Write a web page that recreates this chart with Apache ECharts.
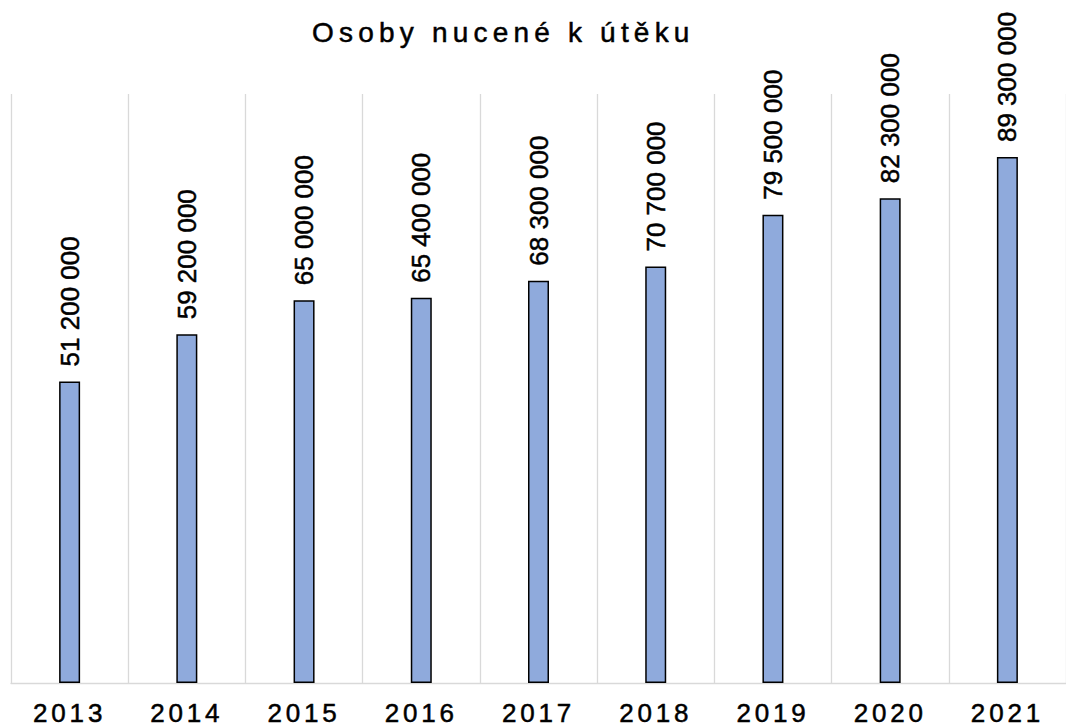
<!DOCTYPE html>
<html>
<head>
<meta charset="utf-8">
<script src="https://cdn.jsdelivr.net/npm/echarts@6/dist/echarts.min.js"></script>
<style>
  html, body { margin: 0; padding: 0; background: #fff; }
  #chart { width: 1066px; height: 728px; }
</style>
</head>
<body>
<div id="chart"></div>
<script>
const titleText = "Osoby nucené k útěku";
const years = ["2013", "2014", "2015", "2016", "2017", "2018", "2019", "2020", "2021"];
const displaced = [51200000, 59200000, 65000000, 65400000, 68300000, 70700000, 79500000, 82300000, 89300000];

const FONT = "'Liberation Sans', Arial, sans-serif";

function fmt(v) {
  return String(v).replace(/\B(?=(\d{3})+(?!\d))/g, " ");
}

const chart = echarts.init(document.getElementById("chart"), null, { renderer: "svg" });

const option = {
  animation: false,
  backgroundColor: "#fff",
  title: {
    text: titleText,
    left: 307,
    top: 13,
    textStyle: {
      fontFamily: FONT, fontSize: 28, fontWeight: "normal", color: "#000",
      textBorderColor: "#000", textBorderWidth: 0.5
    }
  },
  grid: { left: 11, top: 94, bottom: 45, width: 1062 },
  xAxis: {
    type: "category",
    data: years,
    axisLine: { lineStyle: { color: "#d9d9d9", width: 1.3 } },
    axisTick: { show: false },
    splitLine: { show: true, lineStyle: { color: "#d9d9d9", width: 1.3 } },
    axisLabel: {
      fontFamily: FONT, fontSize: 26, color: "#000", margin: 17,
      textBorderColor: "#000", textBorderWidth: 0.5
    }
  },
  yAxis: {
    type: "value",
    min: 0,
    max: 100000000,
    show: false,
    splitLine: { show: false }
  },
  series: [{
    type: "bar",
    data: displaced,
    barWidth: 21,
    itemStyle: { color: "#8faadc", borderColor: "#000", borderWidth: 1.5 },
    label: {
      show: true,
      position: "top",
      rotate: 90,
      align: "left",
      verticalAlign: "middle",
      distance: 15,
      fontFamily: FONT,
      fontSize: 26,
      color: "#000",
      textBorderColor: "#000",
      textBorderWidth: 0.5,
      formatter: p => fmt(p.value)
    }
  }]
};

chart.setOption(option);

// spread letters like the original (title and year labels)
function spaceText() {
  document.querySelectorAll("#chart text").forEach(t => {
    const s = t.textContent;
    if (s === titleText) t.style.letterSpacing = "5.2px";
    else if (years.indexOf(s) >= 0) t.style.letterSpacing = "3.8px";
  });
}
spaceText();
chart.on("finished", spaceText);
</script>
</body>
</html>
